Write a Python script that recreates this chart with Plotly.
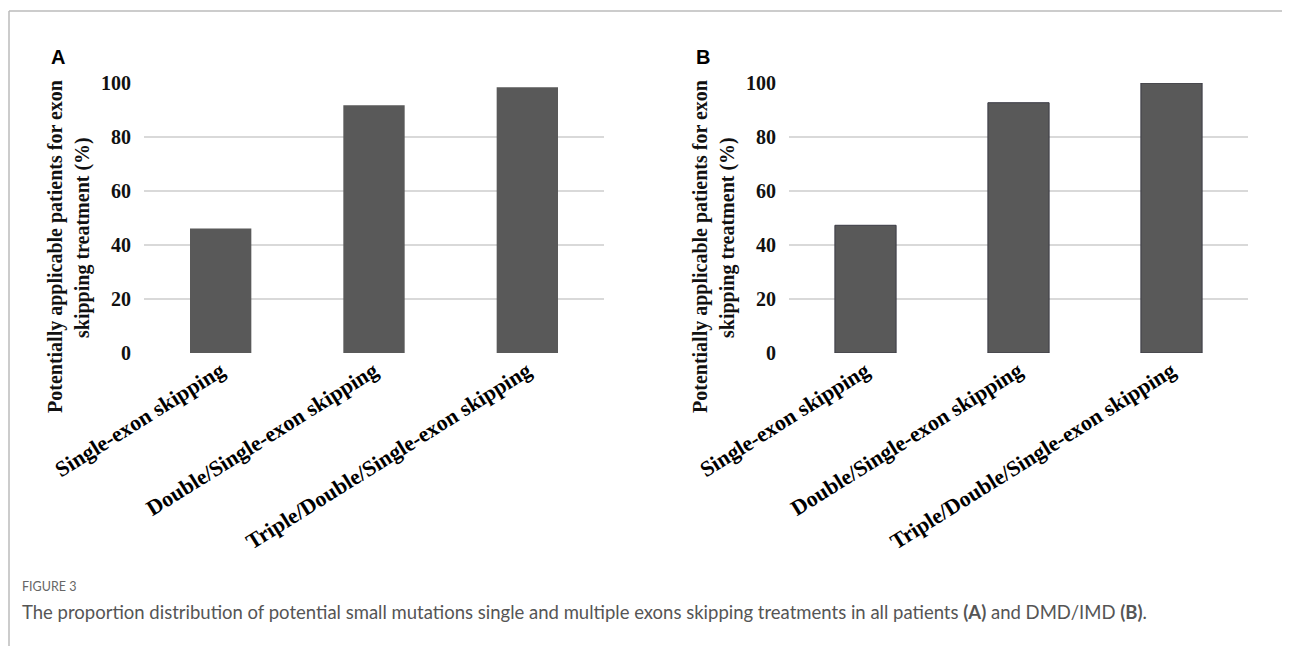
import plotly.graph_objects as go

categories = ["Single-exon skipping", "Double/Single-exon skipping", "Triple/Double/Single-exon skipping"]
values_a = [46.1, 91.8, 98.4]
values_b = [47.3, 92.7, 100.0]
y_ticks = [0, 20, 40, 60, 80, 100]
panel_labels = ["A", "B"]
y_title_lines = ["Potentially applicable patients for exon", "skipping treatment (%)"]
fig_label = "FIGURE 3"
caption = ("The proportion distribution of potential small mutations single and multiple exons "
           "skipping treatments in all patients <b>(A)</b> and DMD/IMD <b>(B)</b>.")

W, H = 1290, 646
OFF = 8  # page body margin shift
BAR = "#595959"
SERIF = "Liberation Serif, Times New Roman, serif"


def px(x):
    return (x - OFF) / W


def py(y):
    return (H - (y - OFF)) / H


fig = go.Figure()
fig.add_trace(go.Bar(x=categories, y=values_a, marker=dict(color=BAR, line=dict(width=0)),
                     xaxis="x", yaxis="y", showlegend=False))
fig.add_trace(go.Bar(x=categories, y=values_b, marker=dict(color=BAR, line=dict(color="#3a3a44", width=1)),
                     xaxis="x2", yaxis="y2", showlegend=False))

xdomA = [px(144), px(604)]
xdomB = [px(789), px(1248)]
ydom = [py(353), py(83)]

xcommon = dict(showgrid=False, zeroline=False, showline=False, ticks="", tickangle=-32, automargin=False,
               tickfont=dict(family=SERIF, size=22, color="#000", weight="bold"))
ycommon = dict(range=[0, 100], tickvals=y_ticks, showgrid=True, gridcolor="#d9d9d9", gridwidth=1.5,
               zeroline=False, showline=False, ticks="", ticklabelstandoff=12, automargin=False,
               tickfont=dict(family=SERIF, size=20, color="#111", weight="bold"))

fig.update_layout(
    width=W, height=H, margin=dict(l=0, r=0, t=0, b=0, autoexpand=False),
    paper_bgcolor="white", plot_bgcolor="white", bargap=0.6,
    xaxis=dict(domain=xdomA, anchor="y", **xcommon),
    yaxis=dict(domain=ydom, anchor="x", **ycommon),
    xaxis2=dict(domain=xdomB, anchor="y2", **xcommon),
    yaxis2=dict(domain=ydom, anchor="x2", **ycommon),
)

anns = []
for lab, xp in zip(panel_labels, [58, 703]):
    anns.append(dict(text=lab, x=px(xp), y=py(57), xref="paper", yref="paper", showarrow=False,
                     xanchor="center", yanchor="middle",
                     font=dict(family="Liberation Sans, Arial", size=20, color="#000", weight="bold")))
for dx in [0, 645]:
    for line, xp, yc in zip(y_title_lines, [55, 82], [247, 238]):
        anns.append(dict(text=line, x=px(xp + dx), y=py(yc), xref="paper", yref="paper", showarrow=False,
                         xanchor="center", yanchor="middle", textangle=-90,
                         font=dict(family=SERIF, size=20, color="#111", weight="bold")))
anns.append(dict(text=fig_label, x=px(20), y=py(586), xref="paper", yref="paper", showarrow=False,
                 xanchor="left", yanchor="middle", font=dict(family="Lato, Open Sans", size=12.5, color="#666")))
anns.append(dict(text=caption, x=px(20), y=py(612), xref="paper", yref="paper", showarrow=False,
                 xanchor="left", yanchor="middle", font=dict(family="Lato, Open Sans", size=18.5, color="#555")))
fig.update_layout(annotations=anns)

fig.add_shape(type="line", xref="paper", yref="paper", x0=px(9), x1=1, y0=py(11), y1=py(11),
              line=dict(color="#bbbbbb", width=1.5))
fig.add_shape(type="line", xref="paper", yref="paper", x0=px(9), x1=px(9), y0=py(11), y1=0,
              line=dict(color="#bbbbbb", width=1.5))

fig.write_html("out.html")
